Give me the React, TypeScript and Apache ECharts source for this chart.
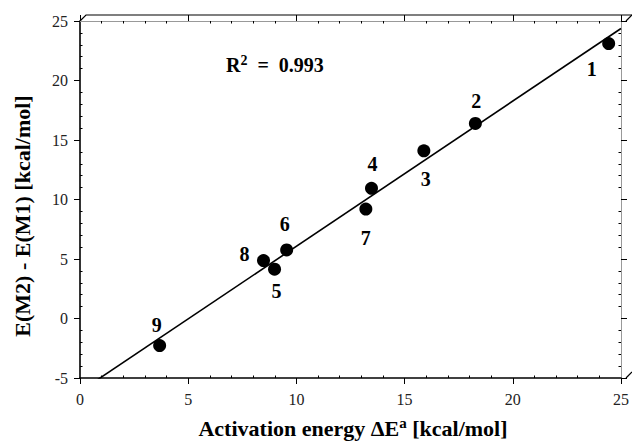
import React, { useEffect, useRef } from "react";
import * as echarts from "echarts";

// ---- data ----
const pointNames = ["1", "2", "3", "4", "7", "6", "8", "5", "9"];
const activationEnergy = [24.43, 18.27, 15.89, 13.47, 13.21, 9.55, 8.48, 8.99, 3.68];
const energyDiff = [23.1, 16.39, 14.09, 10.94, 9.2, 5.76, 4.87, 4.14, -2.27];
const fitSlope = 1.22;
const fitIntercept = -6.13;
const fitXRange = [0, 25];
const rSquared = "0.993";
const xTicks = { min: 0, max: 25, interval: 5 };
const yTicks = { min: -5, max: 25, interval: 5 };

// ---- style (label offsets relative to point, px) ----
const labelOffsets: [number, number][] = [
  [-17, 25], [1, -22], [2, 28], [1, -24], [0, 29], [-2, -26], [-19, -7], [2, 22], [-3, -21],
];

const SERIF = "'Liberation Serif', 'Times New Roman', serif";
const G = { left: 80, right: 6, top: 21, bottom: 63 };
const W = 632;
const H = 441;
const DEPTH = 6;

export default function App() {
  const ref = useRef<HTMLDivElement>(null);
  useEffect(() => {
    if (!ref.current) return;
    const chart = echarts.init(ref.current, null, { renderer: "svg" });
    const scatterData = activationEnergy.map((x, i) => ({
      value: [x, energyDiff[i]],
      name: pointNames[i],
      label: { offset: labelOffsets[i] },
    }));
    const fitData = fitXRange.map((x) => [x, fitSlope * x + fitIntercept]);

    const labelStyle = { fontFamily: SERIF, fontSize: 16, color: "#222" };
    const majorX = (pos: string, showLabel: boolean, lineColor: string, lineW: number) => ({
      type: "value",
      position: pos,
      ...xTicks,
      axisLine: { show: true, onZero: false, lineStyle: { color: lineColor, width: lineW } },
      axisTick: { show: true, inside: false, length: 6, lineStyle: { color: "#000", width: 1 } },
      minorTick: { show: false },
      axisLabel: { show: showLabel, margin: 13, ...labelStyle },
      splitLine: { show: false },
    });
    const minorX = (pos: string) => ({
      type: "value",
      position: pos,
      ...xTicks,
      axisLine: { show: false, onZero: false },
      axisTick: { show: false, inside: true },
      minorTick: { show: true, splitNumber: 5, length: 2.5, lineStyle: { color: "#000", width: 1 } },
      axisLabel: { show: false },
      splitLine: { show: false },
    });
    const majorY = (pos: string, showLabel: boolean, lineColor: string, lineW: number) => ({
      type: "value",
      position: pos,
      ...yTicks,
      axisLine: { show: true, onZero: false, lineStyle: { color: lineColor, width: lineW } },
      axisTick: { show: true, inside: false, length: 6, lineStyle: { color: "#000", width: 1 } },
      minorTick: { show: false },
      axisLabel: { show: showLabel, margin: 12, ...labelStyle },
      splitLine: { show: false },
    });
    const minorY = (pos: string) => ({
      type: "value",
      position: pos,
      ...yTicks,
      axisLine: { show: false, onZero: false },
      axisTick: { show: false, inside: true },
      minorTick: { show: true, splitNumber: 5, length: 2.5, lineStyle: { color: "#000", width: 1 } },
      axisLabel: { show: false },
      splitLine: { show: false },
    });

    const x0 = G.left;
    const x1 = W - G.right;
    const y0 = G.top;
    const y1 = H - G.bottom;
    const frameStyle = { stroke: "#000", lineWidth: 1.2, fill: null };

    chart.setOption({
      animation: false,
      grid: { left: G.left, right: G.right, top: G.top, bottom: G.bottom, containLabel: false },
      xAxis: [
        majorX("bottom", true, "#000", 1.6),
        minorX("bottom"),
        majorX("top", false, "#999", 1),
        minorX("top"),
      ],
      yAxis: [
        majorY("left", true, "#000", 1.6),
        minorY("left"),
        majorY("right", false, "#999", 1),
        minorY("right"),
      ],
      series: [
        {
          type: "line",
          data: fitData,
          xAxisIndex: 0,
          yAxisIndex: 0,
          showSymbol: false,
          clip: true,
          lineStyle: { color: "#000", width: 1.6 },
          silent: true,
          z: 2,
        },
        {
          type: "scatter",
          data: scatterData,
          xAxisIndex: 0,
          yAxisIndex: 0,
          symbol: "circle",
          symbolSize: 13,
          itemStyle: { color: "#000", opacity: 1 },
          z: 3,
          label: {
            show: true,
            position: "inside",
            formatter: (p: any) => p.name,
            fontFamily: SERIF,
            fontWeight: "bold",
            fontSize: 20,
            color: "#000",
          },
        },
      ],
      graphic: [
        {
          type: "polyline",
          silent: true,
          shape: { points: [[x0, y0], [x0 + DEPTH, y0 - DEPTH], [W + 2, y0 - DEPTH]] },
          style: frameStyle,
        },
        {
          type: "line",
          silent: true,
          shape: { x1: x1, y1: y0, x2: x1 + DEPTH, y2: y0 - DEPTH },
          style: frameStyle,
        },
        {
          type: "line",
          silent: true,
          shape: { x1: x1, y1: y1, x2: x1 + DEPTH, y2: y1 - DEPTH },
          style: frameStyle,
        },
        {
          type: "text",
          left: 226,
          top: 53,
          silent: true,
          style: {
            text: "{b|R}{s|2}{b|  =  " + rSquared + "}",
            rich: {
              b: { fontFamily: SERIF, fontWeight: "bold", fontSize: 20, fill: "#000", lineHeight: 24 },
              s: { fontFamily: SERIF, fontWeight: "bold", fontSize: 14, fill: "#000", verticalAlign: "top", lineHeight: 14 },
            },
          },
        },
        {
          type: "text",
          x: 353,
          y: 428,
          silent: true,
          style: {
            text: "{b|Activation energy ΔE}{s|a}{b| [kcal/mol]}",
            align: "center",
            verticalAlign: "middle",
            rich: {
              b: { fontFamily: SERIF, fontWeight: "bold", fontSize: 22, fill: "#000", lineHeight: 26 },
              s: { fontFamily: SERIF, fontWeight: "bold", fontSize: 15, fill: "#000", verticalAlign: "top", lineHeight: 15 },
            },
          },
        },
        {
          type: "text",
          x: 22,
          y: 216,
          rotation: Math.PI / 2,
          silent: true,
          style: {
            text: "E(M2) - E(M1) [kcal/mol]",
            align: "center",
            verticalAlign: "middle",
            fontFamily: SERIF,
            fontWeight: "bold",
            fontSize: 22,
            fill: "#000",
          },
        },
      ],
    });
    return () => chart.dispose();
  }, []);

  return (
    <div
      ref={ref}
      style={{ position: "fixed", left: 0, top: 0, width: W, height: H, background: "#fff" }}
    />
  );
}
